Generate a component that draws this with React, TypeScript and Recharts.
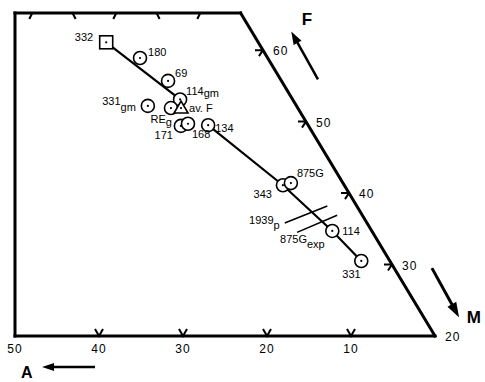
import React from 'react';
import { ScatterChart, Scatter, XAxis, YAxis, ReferenceLine, ReferenceDot } from 'recharts';

// Cut-out of an AFM triangle. F lines are horizontal, so the plot x of a
// composition shifts with F: x = A + SKEW * (F - 20)
const SKEW = 0.512;
const F_MIN = 20;
const F_MAX = 65.2;
const toX = (a: number, f: number) => a + SKEW * (f - F_MIN);

const FONT = '"Liberation Sans", Arial, sans-serif';

const SAMPLES = ['332', '180', '69', '114gm', '331gm', 'REg', 'av. F', '171', '168', '134', '343', '875G', '114', '331'];
const SAMPLE_A = [18.1, 15.2, 13.5, 13.4, 17.7, 15.1, 13.9, 15.2, 14.2, 11.9, 7.3, 6.2, 4.7, 3.4];
const SAMPLE_F = [61.1, 58.9, 55.7, 53.1, 52.2, 51.9, 51.9, 49.4, 49.7, 49.5, 41.1, 41.4, 34.7, 30.5];
const SAMPLE_MARK = ['square', 'circle', 'circle', 'circle', 'circle', 'circle', 'triangle', 'circle', 'circle', 'circle', 'circle', 'circle', 'circle', 'circle'];

// trend line, broken through the cluster round av. F
const TREND_1 = ['332', '114gm'];
const TREND_2 = ['134', '343', '114', '331'];

// tie lines
const TIES = ['1939p', '875Gexp'];
const TIE_A1 = [9.8, 9.0];
const TIE_F1 = [35.8, 34.5];
const TIE_A2 = [3.5, 3.0];
const TIE_F2 = [38.2, 36.9];

const A_TICKS = [50, 40, 30, 20, 10];
const F_TICKS = [20, 30, 40, 50, 60];
const TOP_A_TICKS = [20, 10];
const TOP_M_TICKS = [10, 20, 30];

const samples = SAMPLES.map((name, i) => ({
  name,
  mark: SAMPLE_MARK[i],
  x: toX(SAMPLE_A[i], SAMPLE_F[i]),
  y: SAMPLE_F[i],
}));
const byName = (names: string[]) => names.map((n) => samples.find((s) => s.name === n)!);

// label placement relative to the marker, in pixels
const LABELS: Record<string, any> = {
  '332': { dx: -13, dy: -1, anchor: 'end', main: '332' },
  '180': { dx: 8, dy: -2, anchor: 'start', main: '180' },
  '69': { dx: 7, dy: -4, anchor: 'start', main: '69' },
  '114gm': { dx: 6, dy: -4, anchor: 'start', main: '114', sub: 'gm', subDy: 2 },
  '331gm': { dx: -12, dy: -1, anchor: 'end', main: '331', sub: 'gm', subDy: 6 },
  'REg': { dx: 1, dy: 15, anchor: 'end', main: 'RE', sub: 'g', subDy: 3 },
  'av. F': { dx: 8, dy: 4, anchor: 'start', main: 'av. F' },
  '171': { dx: -8, dy: 13, anchor: 'end', main: '171' },
  '168': { dx: 4, dy: 14, anchor: 'start', main: '168' },
  '134': { dx: 7, dy: 7, anchor: 'start', main: '134' },
  '343': { dx: -11, dy: 13, anchor: 'end', main: '343' },
  '875G': { dx: 6, dy: -6, anchor: 'start', main: '875G' },
  '114': { dx: 10, dy: 4, anchor: 'start', main: '114' },
  '331': { dx: -19, dy: 17, anchor: 'start', main: '331' },
  '1939p': { dx: -5, dy: 1, anchor: 'end', main: '1939', sub: 'p', subDy: 5 },
  '875Gexp': { dx: -17, dy: 11, anchor: 'start', main: '875G', sub: 'exp', subDy: 5 },
};

const Tag = ({ x, y, lab, size = 11 }: any) => (
  <text x={x + lab.dx} y={y + lab.dy} textAnchor={lab.anchor} fontSize={size} fontFamily={FONT} fill="#000">
    {lab.main}
    {lab.sub && <tspan dy={lab.subDy}>{lab.sub}</tspan>}
  </text>
);

const Marker = ({ cx, cy, payload }: any) => {
  const s = { fill: '#fff', stroke: '#000', strokeWidth: 1.6 };
  return (
    <g>
      {payload.mark === 'square' && <rect x={cx - 6.5} y={cy - 6.5} width={13} height={13} {...s} />}
      {payload.mark === 'circle' && <circle cx={cx} cy={cy} r={6.5} {...s} />}
      {payload.mark === 'triangle' && (
        <polygon points={`${cx},${cy - 7} ${cx + 7},${cy + 5} ${cx - 7},${cy + 5}`} {...s} />
      )}
      <circle cx={cx} cy={cy} r={1.1} fill="#000" />
    </g>
  );
};

const SampleLabel = ({ cx, cy, payload }: any) => <Tag x={cx} y={cy} lab={LABELS[payload.name]} />;

const Nothing = () => <g />;

const BottomTick = ({ x, y, payload }: any) => (
  <g>
    {payload.value !== 50 && (
      <path d={`M${x - 4},${y - 7} L${x},${y} L${x + 4},${y - 7}`} fill="none" stroke="#000" strokeWidth={2} />
    )}
    <text x={x} y={y + 17} textAnchor="middle" fontSize={12} fontFamily={FONT} letterSpacing={1} fill="#000">
      {payload.value}
    </text>
  </g>
);

const RightTick = ({ cx, cy, label }: any) => (
  <g>
    {label !== 20 && (
      <path d={`M${cx - 8},${cy} L${cx},${cy} M${cx - 4},${cy + 6} L${cx},${cy}`} fill="none" stroke="#000" strokeWidth={2} />
    )}
    <text x={cx + 10} y={cy + 5} fontSize={12} fontFamily={FONT} letterSpacing={1} fill="#000">
      {label}
    </text>
  </g>
);

const TopTick = ({ cx, cy, dir }: any) => (
  <path d={`M${cx},${cy} L${cx + dir * 3},${cy + 6}`} stroke="#000" strokeWidth={2} />
);

const arrow = (len: number, width: number, sw: number) => (p: any) => {
  const { x1, y1, x2, y2 } = p;
  const d = Math.hypot(x2 - x1, y2 - y1);
  const ux = (x2 - x1) / d;
  const uy = (y2 - y1) / d;
  const bx = x2 - ux * len;
  const by = y2 - uy * len;
  const nx = -uy * width / 2;
  const ny = ux * width / 2;
  return (
    <g>
      <line x1={x1} y1={y1} x2={bx + ux * 2} y2={by + uy * 2} stroke="#000" strokeWidth={sw} />
      <polygon points={`${x2},${y2} ${bx + nx},${by + ny} ${bx - nx},${by - ny}`} fill="#000" />
    </g>
  );
};

const NameLabel = ({ cx, cy, text, size }: any) => (
  <text x={cx} y={cy} fontSize={size} fontWeight="bold" fontFamily={FONT} fill="#000">
    {text}
  </text>
);

const seg = (a1: number, f1: number, a2: number, f2: number) => [
  { x: toX(a1, f1), y: f1 },
  { x: toX(a2, f2), y: f2 },
];

export default function App() {
  const frame = [
    [50, F_MIN],
    [50 - SKEW * (F_MAX - F_MIN), F_MAX],
    [0, F_MAX],
    [0, F_MIN],
  ];
  return (
    <div style={{ position: 'absolute', left: 0, top: 0, background: '#fff' }}>
      <ScatterChart width={485} height={382} margin={{ top: 13, right: 50, bottom: 16, left: 15 }}>
        <XAxis
          type="number"
          dataKey="x"
          domain={[0, 50]}
          reversed
          allowDataOverflow
          ticks={A_TICKS}
          axisLine={false}
          tickLine={false}
          tickSize={0}
          tickMargin={0}
          tick={BottomTick}
        />
        <YAxis type="number" dataKey="y" domain={[F_MIN, F_MAX]} allowDataOverflow hide />

        {frame.map((c, i) => {
          const n = frame[(i + 1) % frame.length];
          return (
            <ReferenceLine
              key={`frame-${i}`}
              segment={seg(c[0], c[1], n[0], n[1])}
              stroke="#000"
              strokeWidth={3}
              strokeLinecap="square"
              ifOverflow="visible"
            />
          );
        })}

        {F_TICKS.map((f) => (
          <ReferenceDot key={`f-${f}`} x={toX(0, f)} y={f} ifOverflow="visible" shape={(p: any) => <RightTick {...p} label={f} />} />
        ))}
        {TOP_A_TICKS.map((a) => (
          <ReferenceDot key={`ta-${a}`} x={toX(a, F_MAX)} y={F_MAX} ifOverflow="visible" shape={(p: any) => <TopTick {...p} dir={1} />} />
        ))}
        {TOP_M_TICKS.map((m) => (
          <ReferenceDot key={`tm-${m}`} x={toX(100 - F_MAX - m, F_MAX)} y={F_MAX} ifOverflow="visible" shape={(p: any) => <TopTick {...p} dir={-1} />} />
        ))}

        {TIES.map((t, i) => (
          <ReferenceLine
            key={t}
            segment={seg(TIE_A1[i], TIE_F1[i], TIE_A2[i], TIE_F2[i])}
            stroke="#000"
            strokeWidth={1.6}
            ifOverflow="visible"
          />
        ))}
        {TIES.map((t, i) => (
          <ReferenceDot
            key={`tl-${t}`}
            x={toX(TIE_A1[i], TIE_F1[i])}
            y={TIE_F1[i]}
            ifOverflow="visible"
            shape={(p: any) => <Tag x={p.cx} y={p.cy} lab={LABELS[t]} />}
          />
        ))}

        <ReferenceLine segment={seg(-4.45, 55.9, -4.7, 62.6)} ifOverflow="visible" shape={arrow(13, 9, 2.5)} />
        <ReferenceLine segment={seg(-4.5, 29.5, -4.2, 22.6)} ifOverflow="visible" shape={arrow(15, 10, 3)} />
        <ReferenceLine segment={seg(42.7, 15.66, 49.0, 15.66)} ifOverflow="visible" shape={arrow(12, 8, 2.5)} />
        <ReferenceDot x={toX(-6.4, 63.5)} y={63.5} ifOverflow="visible" shape={(p: any) => <NameLabel {...p} text="F" size={17} />} />
        <ReferenceDot x={toX(-4.7, 21.8)} y={21.8} ifOverflow="visible" shape={(p: any) => <NameLabel {...p} text="M" size={17} />} />
        <ReferenceDot x={toX(52.3, 14.1)} y={14.1} ifOverflow="visible" shape={(p: any) => <NameLabel {...p} text="A" size={16} />} />

        <Scatter data={byName(TREND_1)} line={{ stroke: '#000', strokeWidth: 2.2 }} lineType="joint" shape={Nothing} isAnimationActive={false} />
        <Scatter data={byName(TREND_2)} line={{ stroke: '#000', strokeWidth: 2.2 }} lineType="joint" shape={Nothing} isAnimationActive={false} />
        <Scatter data={samples} shape={Marker} isAnimationActive={false} />
        <Scatter data={samples} shape={SampleLabel} isAnimationActive={false} />
      </ScatterChart>
    </div>
  );
}
